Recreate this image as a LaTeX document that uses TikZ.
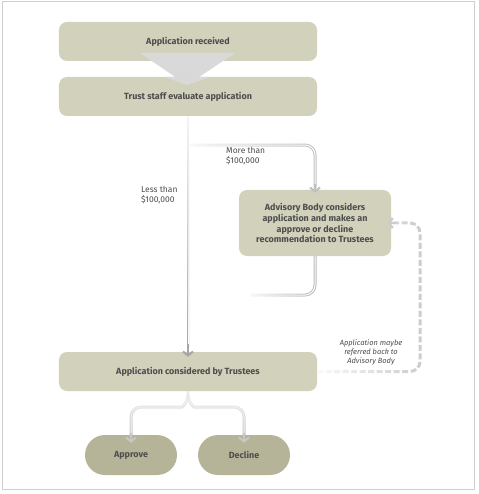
\documentclass[tikz,border=0pt]{standalone}
\usepackage{fontspec}
\setmainfont{Fira Sans}
\usetikzlibrary{arrows.meta,fadings,calc}
\definecolor{boxfill}{HTML}{D2D1BC}
\definecolor{endfill}{HTML}{B6B498}
\definecolor{txt}{HTML}{4D4D4D}
\definecolor{tri}{HTML}{D9D9D9}
\definecolor{framec}{HTML}{CFCFCF}
\tikzfading[name=fademain, top color=transparent!88, middle color=transparent!80, bottom color=transparent!0]
\tikzfading[name=fadedown, top color=transparent!85, bottom color=transparent!0]
\tikzfading[name=faderight, left color=transparent!90, right color=transparent!0]
\begin{document}
\begin{tikzpicture}[x=1bp,y=-1bp,
  stepbox/.style={draw=none, fill=boxfill, rounded corners=8bp, text=txt,
    font=\fontsize{9}{11}\selectfont\bfseries, inner sep=0pt, align=center},
  endbox/.style={draw=none, fill=endfill, rounded corners=20bp, text=txt,
    font=\fontsize{9}{11}\selectfont\bfseries, inner sep=0pt,
    minimum width=92bp, minimum height=40bp},
  lab/.style={text=txt, font=\fontsize{8.5}{10}\selectfont, inner sep=0pt, align=left, anchor=north west},
  ital/.style={text=txt, font=\fontsize{7.5}{9}\selectfont\itshape, inner sep=0pt, align=center},
  tube/.style={draw=#1, double=white, double distance=1bp, line width=1bp},
  tube/.default={gray!70},
  tipc/.style={draw=#1, line width=2bp, -{Straight Barb[length=4bp,width=10bp]}},
  tipc/.default={gray!70},
  dashc/.style={draw=gray!40, line width=3bp, dash pattern=on 6bp off 2.5bp}
]
\useasboundingbox (0,0) rectangle (479,494);
\draw[framec, line width=1bp] (2,2) rectangle (474,489);

\node[stepbox, minimum width=258bp, minimum height=39bp] (b1) at (188,41.5) {Application received};
\fill[tri] (140,53) -- (235,53) -- (187,85) -- cycle;
\node[stepbox, minimum width=258bp, minimum height=39bp] (b2) at (188,96.5) {Trust staff evaluate application};
\fill[tri] (b2.north -| 164,0) -- (b2.north -| 211,0) -- (187,85) -- cycle;
\node[stepbox, minimum width=152bp, minimum height=66bp] (b3) at (315,223)
  {Advisory Body considers\\application and makes an\\approve or decline\\recommendation to Trustees};
\node[stepbox, minimum width=258bp, minimum height=39bp] (b4) at (188,371.5) {Application considered by Trustees};
\node[endbox] (ap) at (131,455) {Approve};
\node[endbox] (de) at (244,455) {Decline};

% main line
\draw[tube, path fading=fademain] (b2.south) -- ($(b4.north)+(0,-4)$);
\draw[tipc] ($(b4.north)+(0,-8)$) -- ($(b4.north)+(0,5)$);

% more than branch
\coordinate (br1) at (190,145);
\draw[tube={gray!50}, rounded corners=10bp, path fading=faderight] (br1) -| ($(b3.north)+(0,-2)$);
\draw[tipc={gray!50}] ($(b3.north)+(0,-6)$) -- ($(b3.north)+(0,3)$);

% return from advisory body
\coordinate (ret) at (250,295);
\draw[tube={gray!55}, rounded corners=10bp, path fading=faderight] (b3.south) |- (ret);

% split to outcomes
\draw[tube={gray!50}, rounded corners=10bp, path fading=fadedown]
  (b4.south) .. controls (188,404) and (182,407) .. (172,407) -| ($(ap.north)+(0,2)$);
\draw[tube={gray!50}, rounded corners=10bp, path fading=fadedown]
  (b4.south) .. controls (188,404) and (194,407) .. (204,407) -| ($(de.north)+(0,2)$);
\draw[tipc={gray!45}] ($(ap.north)+(0,-2)$) -- ($(ap.north)+(0,8)$);
\draw[tipc={gray!45}] ($(de.north)+(0,-2)$) -- ($(de.north)+(0,8)$);

% referred back
\coordinate (rt) at (420,300);
\draw[dashc, rounded corners=10bp, path fading=faderight] (b4.east) -| (rt) |- ($(b3.east)+(-2,0)$);
\draw[tipc={gray!40}, line width=2.5bp] ($(b3.east)+(6,0)$) -- ($(b3.east)+(-4,0)$);

% labels
\node[lab] (l1) at (226,147) {More than\\\$100,000};
\node[lab] (l2) at (141,186) {Less than\\\$100,000};
\node[ital] (l3) at (371,352) {Application maybe\\referred back to\\Advisory Body};
\end{tikzpicture}
\end{document}
